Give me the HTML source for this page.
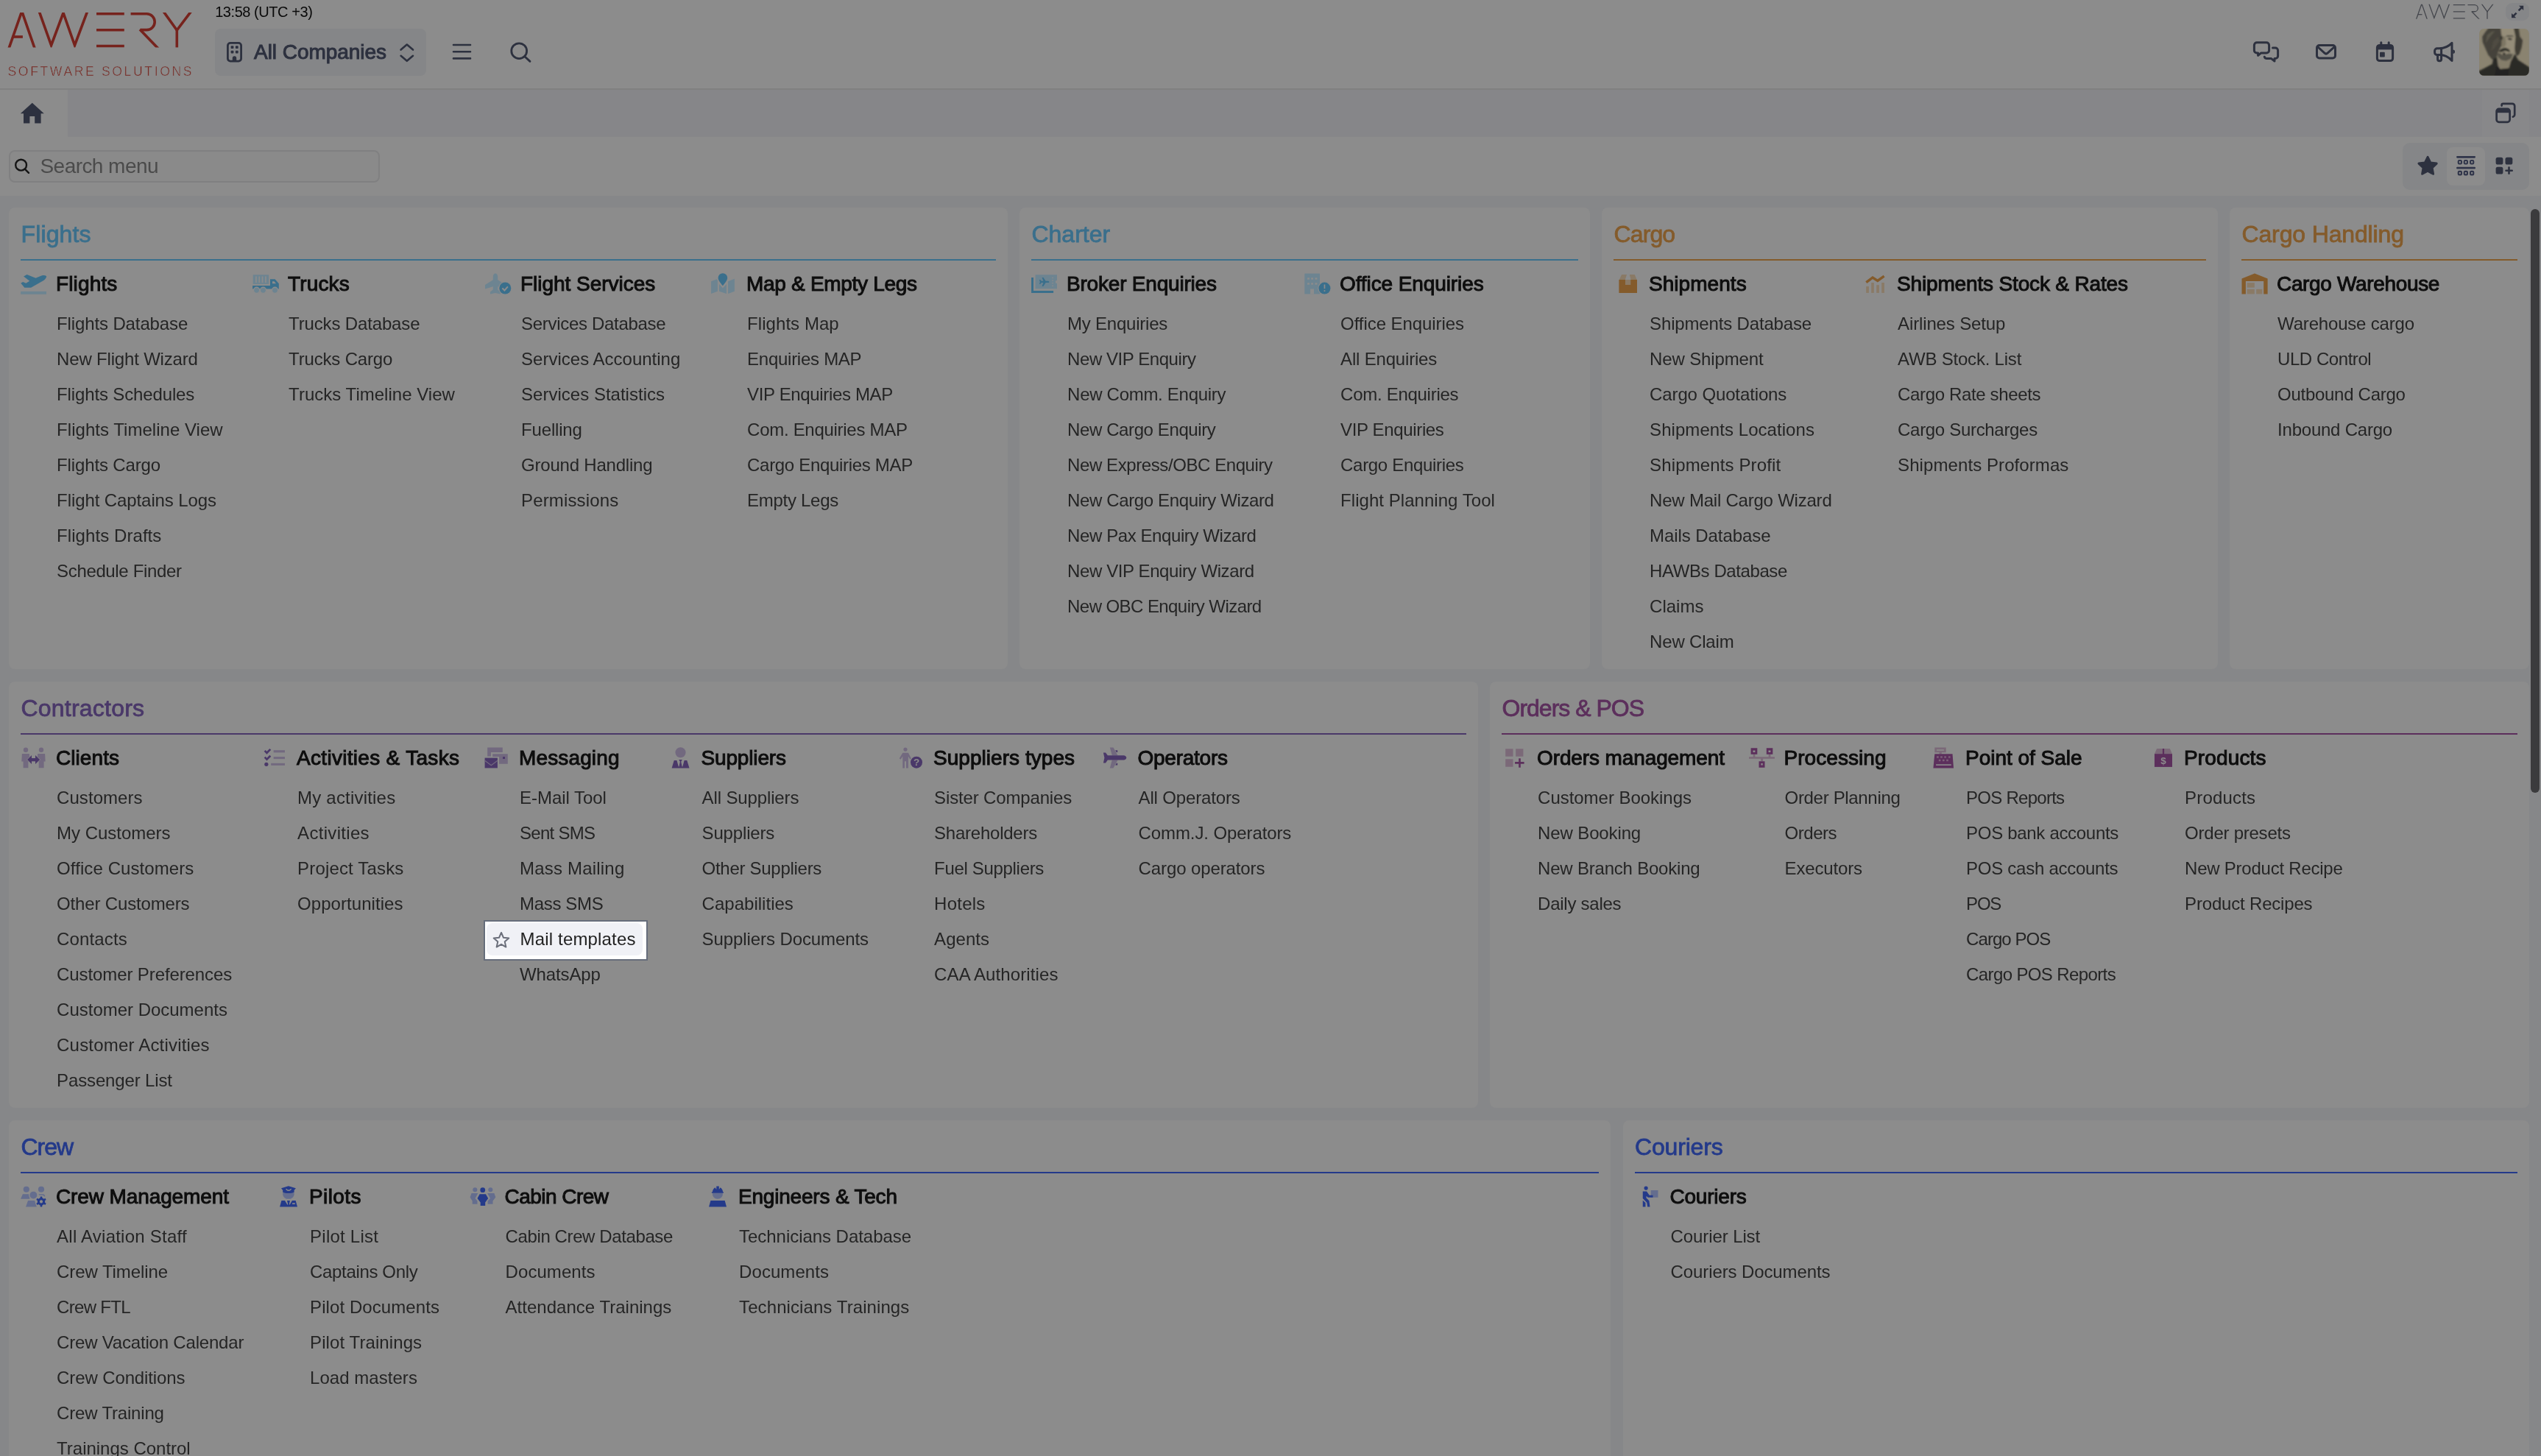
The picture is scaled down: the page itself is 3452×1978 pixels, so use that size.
<!DOCTYPE html><html><head><meta charset="utf-8"><title>Awery</title><style>
*{box-sizing:border-box;margin:0;padding:0}
html,body{width:3452px;height:1978px;overflow:hidden}
body{position:relative;background:#868789;font-family:"Liberation Sans",sans-serif;color:#252525}
#w{position:absolute;left:0;top:0;width:3452px;height:1978px;will-change:transform}
.abs{position:absolute}
#hdr{left:0;top:0;width:3452px;height:120px;background:#8c8c8c}
#hline{left:0;top:120px;width:3452px;height:2px;background:#808080}
#tabs{left:0;top:122px;width:3452px;height:64px;background:#868689}
#hometab{left:0;top:122px;width:92px;height:64px;background:#8c8c8c}
#tabright{left:3372px;top:122px;width:64px;height:64px;background:#88888a}
#srow{left:0;top:186px;width:3452px;height:80px;background:#8c8c8c}
#time{left:292.2px;top:4px;font-size:20px;line-height:24px;color:#0a0a0a;white-space:nowrap}
#comp{left:292px;top:39px;width:287px;height:64px;border-radius:8px;background:#858688}
#comptxt{left:345px;top:53px;font-size:28px;line-height:36px;color:#2d313f;-webkit-text-stroke:1px #2d313f;white-space:nowrap}
#sinput{left:12px;top:204px;width:504px;height:44px;border-radius:8px;border:2px solid #808081;background:#8a8a8a}
#stxt{left:54.5px;top:207.6px;font-size:28px;line-height:36px;color:#4b4b4b;white-space:nowrap}
#expbtn{left:3404px;top:4px;width:32px;height:24px;border-radius:9px;background:#858688}
#btngrp{left:3264px;top:194px;width:172px;height:64px;border-radius:10px;background:#858688}
#btnact{left:3324px;top:200px;width:52px;height:52px;border-radius:8px;background:#8c8c8c}
#scroll{left:3438px;top:283.8px;width:12px;height:793px;border-radius:6px;background:#3b3b3d}
.card{position:absolute;background:#8c8c8c;border-radius:8px}
.ct{position:absolute;left:16px;right:16px;top:16px;height:56px;line-height:40px;font-size:32px;border-bottom:2px solid;white-space:nowrap;padding-left:0.5px;-webkit-text-stroke:0.8px}
.sh{position:absolute;font-size:28px;line-height:36px;color:#0e0e0e;-webkit-text-stroke:1px #0e0e0e;white-space:nowrap}
.it{position:absolute;font-size:24px;line-height:43px;height:44px;white-space:nowrap;color:#252525}
.ic{position:absolute;overflow:visible}
#hl{left:657px;top:1249.5px;width:223px;height:55.5px;background:#fff;border:2px solid #666d7b}
#hli{left:661px;top:1254px;width:211.5px;height:44px;border-radius:8px;background:#f0f1f6}
</style></head><body><div id="w">
<div id="hdr" class="abs"></div><div id="hline" class="abs"></div><div id="tabs" class="abs"></div><div id="hometab" class="abs"></div><div id="tabright" class="abs"></div><div id="srow" class="abs"></div>
<div id="time" class="abs"><span id="t0" style="letter-spacing:-0.445px">13:58 (UTC +3)</span></div>
<div id="comp" class="abs"></div><div id="comptxt" class="abs"><span id="t1" style="letter-spacing:-0.044px">All Companies</span></div>
<div id="sinput" class="abs"></div><div id="stxt" class="abs"><span id="t2" style="letter-spacing:-0.555px">Search menu</span></div>
<div id="expbtn" class="abs"></div><div id="btngrp" class="abs"></div><div id="btnact" class="abs"></div>
<div class="card" style="left:12px;top:282px;width:1357px;height:627px">
<div class="ct" style="color:#3a6f8c;border-color:#3a6f8c"><span id="t3" style="letter-spacing:0.125px">Flights</span></div>
<svg class="ic" style="left:16px;top:86px" width="36" height="36" viewBox="0 0 36 36"><path d="M4.1,7.6 L8.6,5 L20.5,9.8 L28.4,6.5 C31,5.9 33.4,6 34.5,6.7 C35.3,7.4 35.2,8.2 34.9,8.7 C34,10.2 33,11.6 31.7,12.8 L14.1,22.7 H5.3 L0.3,16.7 L3.1,15 L7.3,16.8 L12.2,13.7 Z" fill="#3a6f8c"/><rect x="0.1" y="27.9" width="34.9" height="3.9" fill="#6d8491"/></svg>
<div class="sh" style="left:64px;top:85.7px"><span id="t4" style="letter-spacing:0.139px">Flights</span></div>
<div class="it" style="left:65.1px;top:135.8px"><span id="t5" style="letter-spacing:-0.129px">Flights Database</span></div>
<div class="it" style="left:65.1px;top:183.8px"><span id="t6" style="letter-spacing:-0.181px">New Flight Wizard</span></div>
<div class="it" style="left:65.1px;top:231.8px"><span id="t7" style="letter-spacing:-0.138px">Flights Schedules</span></div>
<div class="it" style="left:65.1px;top:279.8px"><span id="t8" style="letter-spacing:0.028px">Flights Timeline View</span></div>
<div class="it" style="left:65.1px;top:327.8px"><span id="t9" style="letter-spacing:-0.145px">Flights Cargo</span></div>
<div class="it" style="left:65.1px;top:375.8px"><span id="t10" style="letter-spacing:-0.093px">Flight Captains Logs</span></div>
<div class="it" style="left:65.1px;top:423.8px"><span id="t11" style="letter-spacing:0.069px">Flights Drafts</span></div>
<div class="it" style="left:65.1px;top:471.8px"><span id="t12" style="letter-spacing:-0.354px">Schedule Finder</span></div>
<svg class="ic" style="left:331px;top:86px" width="36" height="36" viewBox="0 0 36 36"><rect x="0.7" y="5.3" width="21.4" height="12.6" fill="#6d8491"/>
<g fill="#8c8c8c"><rect x="4.1" y="7.4" width="1.7" height="8.6"/><rect x="8.4" y="7.4" width="1.7" height="8.6"/><rect x="12.7" y="7.4" width="1.7" height="8.6"/><rect x="17.1" y="7.4" width="1.7" height="8.6"/></g>
<path d="M0.1,20 H24 V11.2 H30.6 L35.8,17.2 V24.6 H0.1 Z M27,14.2 V17.2 H32 L29.6,14.2 Z" fill="#3a6f8c" fill-rule="evenodd"/>
<g fill="#8c8c8c"><circle cx="5.6" cy="26.3" r="4.7"/><circle cx="14.5" cy="26.3" r="4.7"/><circle cx="30.5" cy="26.3" r="4.7"/></g>
<g fill="#6d8491"><circle cx="5.6" cy="26.3" r="3.4"/><circle cx="14.5" cy="26.3" r="3.4"/><circle cx="30.5" cy="26.3" r="3.4"/></g></svg>
<div class="sh" style="left:379px;top:85.7px"><span id="t13" style="letter-spacing:0.146px">Trucks</span></div>
<div class="it" style="left:380.1px;top:135.8px"><span id="t14" style="letter-spacing:-0.150px">Trucks Database</span></div>
<div class="it" style="left:380.1px;top:183.8px"><span id="t15" style="letter-spacing:-0.173px">Trucks Cargo</span></div>
<div class="it" style="left:380.1px;top:231.8px"><span id="t16" style="letter-spacing:0.021px">Trucks Timeline View</span></div>
<svg class="ic" style="left:647px;top:86px" width="36" height="36" viewBox="0 0 36 36"><path d="M14,3.4 C15.8,3.4 17.2,5.5 17.2,8 V12.3 L28,19 V24.4 L17.2,21.3 V25.6 L20.7,28.4 V31.5 L14,29.9 L7,31.5 V28.4 L10.8,25.6 V21.3 L0,24.4 V18.9 L10.8,12.3 V8 C10.8,5.5 12.2,3.4 14,3.4 Z" fill="#6d8491"/>
<circle cx="27.3" cy="23.5" r="9.1" fill="#8c8c8c"/><circle cx="27.3" cy="23.5" r="8" fill="#3a6f8c"/>
<path d="M23.4,23.5 L26.4,26.5 L30.9,21.4" fill="none" stroke="#8c8c8c" stroke-width="2"/></svg>
<div class="sh" style="left:695px;top:85.7px"><span id="t17" style="letter-spacing:-0.023px">Flight Services</span></div>
<div class="it" style="left:696.1px;top:135.8px"><span id="t18" style="letter-spacing:-0.313px">Services Database</span></div>
<div class="it" style="left:696.1px;top:183.8px"><span id="t19" style="letter-spacing:0.006px">Services Accounting</span></div>
<div class="it" style="left:696.1px;top:231.8px"><span id="t20" style="letter-spacing:0.011px">Services Statistics</span></div>
<div class="it" style="left:696.1px;top:279.8px"><span id="t21" style="letter-spacing:-0.187px">Fuelling</span></div>
<div class="it" style="left:696.1px;top:327.8px"><span id="t22" style="letter-spacing:-0.211px">Ground Handling</span></div>
<div class="it" style="left:696.1px;top:375.8px"><span id="t23" style="letter-spacing:0.135px">Permissions</span></div>
<svg class="ic" style="left:954px;top:86px" width="36" height="36" viewBox="0 0 36 36"><path d="M0.1,14.2 L7.8,11.2 L8.9,13 V27.7 L0.1,31 Z M11,18 L15.9,23.4 L20.9,18 V31 L11,27.7 Z M23.1,14.2 L31.9,10.8 V27.7 L23.1,31 Z" fill="#6d8491"/>
<path d="M15.9,3.2 A6.3,6.3 0 0 1 22.2,9.5 C22.2,13 18,17.5 15.9,20.3 C13.8,17.5 9.6,13 9.6,9.5 A6.3,6.3 0 0 1 15.9,3.2 Z" fill="#3a6f8c"/></svg>
<div class="sh" style="left:1002px;top:85.7px"><span id="t24" style="letter-spacing:-0.304px">Map &amp; Empty Legs</span></div>
<div class="it" style="left:1003.1px;top:135.8px"><span id="t25" style="letter-spacing:0.055px">Flights Map</span></div>
<div class="it" style="left:1003.1px;top:183.8px"><span id="t26" style="letter-spacing:-0.268px">Enquiries MAP</span></div>
<div class="it" style="left:1003.1px;top:231.8px"><span id="t27" style="letter-spacing:-0.342px">VIP Enquiries MAP</span></div>
<div class="it" style="left:1003.1px;top:279.8px"><span id="t28" style="letter-spacing:-0.290px">Com. Enquiries MAP</span></div>
<div class="it" style="left:1003.1px;top:327.8px"><span id="t29" style="letter-spacing:-0.317px">Cargo Enquiries MAP</span></div>
<div class="it" style="left:1003.1px;top:375.8px"><span id="t30" style="letter-spacing:-0.290px">Empty Legs</span></div>
</div>
<div class="card" style="left:1385px;top:282px;width:775px;height:627px">
<div class="ct" style="color:#3a6f8c;border-color:#3a6f8c"><span id="t31" style="letter-spacing:-0.017px">Charter</span></div>
<svg class="ic" style="left:16px;top:86px" width="36" height="36" viewBox="0 0 36 36"><path d="M5.6,5.3 H35 V12.7 A2.2,2.2 0 0 0 35,17.1 V24.2 H5.6 Z" fill="#6d8491"/>
<g fill="#8c8c8c"><rect x="28.2" y="8.9" width="1.8" height="1.2"/><rect x="28.2" y="12.5" width="1.8" height="1.2"/><rect x="28.2" y="16.1" width="1.8" height="1.2"/><rect x="28.2" y="19.7" width="1.8" height="1.2"/></g>
<path d="M0.1,8.9 H3 V26.9 H30.1 V29.9 H0.1 Z" fill="#3a6f8c"/>
<path d="M24.4,14.9 C24.4,15.7 23.2,16.1 22,16.1 H19.6 L16.4,20.9 H14.6 L16.4,16.1 H13.8 L12.2,17.9 H11 L11.8,14.9 L11,11.9 H12.2 L13.8,13.7 H16.4 L14.6,8.9 H16.4 L19.6,13.7 H22 C23.2,13.7 24.4,14.1 24.4,14.9 Z" fill="#3a6f8c"/></svg>
<div class="sh" style="left:64px;top:85.7px"><span id="t32" style="letter-spacing:-0.199px">Broker Enquiries</span></div>
<div class="it" style="left:65.1px;top:135.8px"><span id="t33" style="letter-spacing:-0.231px">My Enquiries</span></div>
<div class="it" style="left:65.1px;top:183.8px"><span id="t34" style="letter-spacing:-0.438px">New VIP Enquiry</span></div>
<div class="it" style="left:65.1px;top:231.8px"><span id="t35" style="letter-spacing:-0.291px">New Comm. Enquiry</span></div>
<div class="it" style="left:65.1px;top:279.8px"><span id="t36" style="letter-spacing:-0.398px">New Cargo Enquiry</span></div>
<div class="it" style="left:65.1px;top:327.8px"><span id="t37" style="letter-spacing:-0.416px">New Express/OBC Enquiry</span></div>
<div class="it" style="left:65.1px;top:375.8px"><span id="t38" style="letter-spacing:-0.372px">New Cargo Enquiry Wizard</span></div>
<div class="it" style="left:65.1px;top:423.8px"><span id="t39" style="letter-spacing:-0.411px">New Pax Enquiry Wizard</span></div>
<div class="it" style="left:65.1px;top:471.8px"><span id="t40" style="letter-spacing:-0.396px">New VIP Enquiry Wizard</span></div>
<div class="it" style="left:65.1px;top:519.8px"><span id="t41" style="letter-spacing:-0.571px">New OBC Enquiry Wizard</span></div>
<svg class="ic" style="left:387px;top:86px" width="36" height="36" viewBox="0 0 36 36"><rect x="0.3" y="3.6" width="20.7" height="27.8" fill="#6d8491"/>
<g fill="#8c8c8c"><rect x="4.1" y="9.3" width="2.8" height="2.4"/><rect x="9.2" y="9.3" width="2.8" height="2.4"/><rect x="14.5" y="9.3" width="2.9" height="2.4"/><rect x="4.1" y="16.3" width="2.8" height="2.4"/><rect x="9.2" y="16.3" width="2.8" height="2.4"/><rect x="14.5" y="16.3" width="2.9" height="2.4"/><rect x="8.1" y="24.5" width="4.9" height="7"/></g>
<circle cx="27.45" cy="23.55" r="9.1" fill="#8c8c8c"/><circle cx="27.45" cy="23.55" r="8" fill="#3a6f8c"/>
<rect x="26.6" y="18.5" width="1.7" height="5.7" fill="#8c8c8c"/><rect x="26.6" y="26.2" width="1.7" height="1.8" fill="#8c8c8c"/></svg>
<div class="sh" style="left:435px;top:85.7px"><span id="t42" style="letter-spacing:-0.096px">Office Enquiries</span></div>
<div class="it" style="left:436.1px;top:135.8px"><span id="t43" style="letter-spacing:-0.067px">Office Enquiries</span></div>
<div class="it" style="left:436.1px;top:183.8px"><span id="t44" style="letter-spacing:-0.184px">All Enquiries</span></div>
<div class="it" style="left:436.1px;top:231.8px"><span id="t45" style="letter-spacing:-0.281px">Com. Enquiries</span></div>
<div class="it" style="left:436.1px;top:279.8px"><span id="t46" style="letter-spacing:-0.350px">VIP Enquiries</span></div>
<div class="it" style="left:436.1px;top:327.8px"><span id="t47" style="letter-spacing:-0.317px">Cargo Enquiries</span></div>
<div class="it" style="left:436.1px;top:375.8px"><span id="t48" style="letter-spacing:0.039px">Flight Planning Tool</span></div>
</div>
<div class="card" style="left:2176px;top:282px;width:837px;height:627px">
<div class="ct" style="color:#845b2b;border-color:#845b2b"><span id="t49" style="letter-spacing:-0.889px">Cargo</span></div>
<svg class="ic" style="left:16px;top:86px" width="36" height="36" viewBox="0 0 36 36"><path d="M11.1,5 H18 L15.8,11.9 H7.8 Z M21.8,5 H28.7 L31.7,11.9 H23.5 Z M16,12 H23.2 V19 H16 Z" fill="#8a7a66"/>
<path d="M7.4,12 H16 V19 H23.2 V12 H32 V29.9 H7.4 Z" fill="#845b2b"/></svg>
<div class="sh" style="left:64px;top:85.7px"><span id="t50" style="letter-spacing:0.050px">Shipments</span></div>
<div class="it" style="left:65.1px;top:135.8px"><span id="t51" style="letter-spacing:-0.159px">Shipments Database</span></div>
<div class="it" style="left:65.1px;top:183.8px"><span id="t52" style="letter-spacing:-0.134px">New Shipment</span></div>
<div class="it" style="left:65.1px;top:231.8px"><span id="t53" style="letter-spacing:-0.125px">Cargo Quotations</span></div>
<div class="it" style="left:65.1px;top:279.8px"><span id="t54" style="letter-spacing:0.058px">Shipments Locations</span></div>
<div class="it" style="left:65.1px;top:327.8px"><span id="t55" style="letter-spacing:0.125px">Shipments Profit</span></div>
<div class="it" style="left:65.1px;top:375.8px"><span id="t56" style="letter-spacing:-0.221px">New Mail Cargo Wizard</span></div>
<div class="it" style="left:65.1px;top:423.8px"><span id="t57" style="letter-spacing:-0.075px">Mails Database</span></div>
<div class="it" style="left:65.1px;top:471.8px"><span id="t58" style="letter-spacing:-0.409px">HAWBs Database</span></div>
<div class="it" style="left:65.1px;top:519.8px"><span id="t59" style="letter-spacing:0.004px">Claims</span></div>
<div class="it" style="left:65.1px;top:567.8px"><span id="t60" style="letter-spacing:-0.179px">New Claim</span></div>
<svg class="ic" style="left:353px;top:86px" width="36" height="36" viewBox="0 0 36 36"><g fill="#8a7a66"><rect x="6.2" y="21.1" width="3.7" height="8.8"/><rect x="13.2" y="16" width="3.6" height="13.9"/><rect x="20.2" y="19.2" width="3.7" height="10.7"/><rect x="27.2" y="16" width="3.7" height="13.9"/></g>
<path d="M6.3,15.6 L15,9 L21.8,13.5 L30.6,7.2" fill="none" stroke="#845b2b" stroke-width="3.4" stroke-linejoin="miter"/></svg>
<div class="sh" style="left:401px;top:85.7px"><span id="t61" style="letter-spacing:-0.158px">Shipments Stock &amp; Rates</span></div>
<div class="it" style="left:402.1px;top:135.8px"><span id="t62" style="letter-spacing:-0.139px">Airlines Setup</span></div>
<div class="it" style="left:402.1px;top:183.8px"><span id="t63" style="letter-spacing:-0.210px">AWB Stock. List</span></div>
<div class="it" style="left:402.1px;top:231.8px"><span id="t64" style="letter-spacing:-0.352px">Cargo Rate sheets</span></div>
<div class="it" style="left:402.1px;top:279.8px"><span id="t65" style="letter-spacing:-0.315px">Cargo Surcharges</span></div>
<div class="it" style="left:402.1px;top:327.8px"><span id="t66" style="letter-spacing:0.084px">Shipments Proformas</span></div>
</div>
<div class="card" style="left:3029px;top:282px;width:407px;height:627px">
<div class="ct" style="color:#845b2b;border-color:#845b2b"><span id="t67" style="letter-spacing:-0.143px">Cargo Handling</span></div>
<svg class="ic" style="left:16px;top:86px" width="36" height="36" viewBox="0 0 36 36"><path d="M0.5,31.4 V10.4 L18,3.4 L35.6,10.4 V31.4 H30.2 V14.1 H5.9 V31.4 Z" fill="#845b2b"/>
<g fill="#8a7a66"><rect x="7.7" y="16.1" width="10.1" height="6.5"/><rect x="7.7" y="24.9" width="10.1" height="6.5"/><rect x="20.2" y="24.9" width="8.2" height="6.5"/></g></svg>
<div class="sh" style="left:64px;top:85.7px"><span id="t68" style="letter-spacing:-0.342px">Cargo Warehouse</span></div>
<div class="it" style="left:65.1px;top:135.8px"><span id="t69" style="letter-spacing:-0.185px">Warehouse cargo</span></div>
<div class="it" style="left:65.1px;top:183.8px"><span id="t70" style="letter-spacing:-0.451px">ULD Control</span></div>
<div class="it" style="left:65.1px;top:231.8px"><span id="t71" style="letter-spacing:-0.286px">Outbound Cargo</span></div>
<div class="it" style="left:65.1px;top:279.8px"><span id="t72" style="letter-spacing:-0.230px">Inbound Cargo</span></div>
</div>
<div class="card" style="left:12px;top:926px;width:1995.5px;height:579px">
<div class="ct" style="color:#4a3869;border-color:#4a3869"><span id="t73" style="letter-spacing:0.211px">Contractors</span></div>
<svg class="ic" style="left:16px;top:86px" width="36" height="36" viewBox="0 0 36 36"><g fill="#72697f"><circle cx="7" cy="6.8" r="3.2"/><path d="M1.9,12.1 H11.9 L12.3,22.4 H10.4 V31.2 H3.6 V22.4 H1.3 Z"/><circle cx="28" cy="6.8" r="3.2"/><path d="M23.1,12.1 H33.1 L33.6,22.4 H31.6 V31.2 H24.7 V22.4 H22.7 Z"/></g>
<path d="M9.05,20.1 L15,13.9 V18 H20 V13.9 L26.1,20.1 L20,26 V22.2 H15 V26 Z" fill="#4a3869" stroke="#8c8c8c" stroke-width="1.2" paint-order="stroke"/></svg>
<div class="sh" style="left:64px;top:85.7px"><span id="t74" style="letter-spacing:0.068px">Clients</span></div>
<div class="it" style="left:65.1px;top:135.8px"><span id="t75" style="letter-spacing:0.048px">Customers</span></div>
<div class="it" style="left:65.1px;top:183.8px"><span id="t76" style="letter-spacing:-0.019px">My Customers</span></div>
<div class="it" style="left:65.1px;top:231.8px"><span id="t77" style="letter-spacing:0.088px">Office Customers</span></div>
<div class="it" style="left:65.1px;top:279.8px"><span id="t78" style="letter-spacing:-0.164px">Other Customers</span></div>
<div class="it" style="left:65.1px;top:327.8px"><span id="t79" style="letter-spacing:0.146px">Contacts</span></div>
<div class="it" style="left:65.1px;top:375.8px"><span id="t80" style="letter-spacing:-0.104px">Customer Preferences</span></div>
<div class="it" style="left:65.1px;top:423.8px"><span id="t81" style="letter-spacing:-0.015px">Customer Documents</span></div>
<div class="it" style="left:65.1px;top:471.8px"><span id="t82" style="letter-spacing:0.191px">Customer Activities</span></div>
<div class="it" style="left:65.1px;top:519.8px"><span id="t83" style="letter-spacing:-0.139px">Passenger List</span></div>
<svg class="ic" style="left:343px;top:86px" width="36" height="36" viewBox="0 0 36 36"><g fill="#72697f"><rect x="16.7" y="7.2" width="15.3" height="3.1"/><rect x="16.7" y="16.1" width="15.3" height="3"/><rect x="13.2" y="24.8" width="18.8" height="3"/></g>
<g fill="none" stroke="#4a3869" stroke-width="2.7"><path d="M4.7,7.8 L7.5,10.8 L12.3,5.9"/><path d="M4.7,16.6 L7.5,19.6 L12.3,14.7"/></g><circle cx="6.85" cy="26.3" r="2.6" fill="#4a3869"/></svg>
<div class="sh" style="left:391px;top:85.7px"><span id="t84" style="letter-spacing:0.307px">Activities &amp; Tasks</span></div>
<div class="it" style="left:392.1px;top:135.8px"><span id="t85" style="letter-spacing:0.198px">My activities</span></div>
<div class="it" style="left:392.1px;top:183.8px"><span id="t86" style="letter-spacing:0.310px">Activities</span></div>
<div class="it" style="left:392.1px;top:231.8px"><span id="t87" style="letter-spacing:0.164px">Project Tasks</span></div>
<div class="it" style="left:392.1px;top:279.8px"><span id="t88" style="letter-spacing:0.055px">Opportunities</span></div>
<svg class="ic" style="left:645px;top:86px" width="36" height="36" viewBox="0 0 36 36"><path d="M5.2,3.4 H25.8 V10.1 H9.9 V15.6 H5.2 Z M12.2,12.3 H32.8 V25.75 H21.1 V16 H12.2 Z" fill="#72697f"/>
<rect x="26.1" y="16.1" width="2.9" height="2.9" fill="#4a3869"/>
<rect x="1.6" y="17.6" width="17.3" height="13.8" fill="#4a3869"/>
<path d="M1.6,21.3 L10.3,27.7 L18.9,21.3" fill="none" stroke="#72697f" stroke-width="1.4"/></svg>
<div class="sh" style="left:693px;top:85.7px"><span id="t89" style="letter-spacing:0.137px">Messaging</span></div>
<div class="it" style="left:694.1px;top:135.8px"><span id="t90" style="letter-spacing:-0.053px">E-Mail Tool</span></div>
<div class="it" style="left:694.1px;top:183.8px"><span id="t91" style="letter-spacing:-0.737px">Sent SMS</span></div>
<div class="it" style="left:694.1px;top:231.8px"><span id="t92" style="letter-spacing:0.193px">Mass Mailing</span></div>
<div class="it" style="left:694.1px;top:279.8px"><span id="t93" style="letter-spacing:-0.351px">Mass SMS</span></div>
<div class="it" style="left:694.1px;top:375.8px"><span id="t94" style="letter-spacing:-0.129px">WhatsApp</span></div>
<svg class="ic" style="left:892.5px;top:86px" width="36" height="36" viewBox="0 0 36 36"><circle cx="19.5" cy="10.2" r="7" fill="#72697f"/>
<path d="M10.75,21.1 H28.3 L31.5,31.4 H7.6 Z M17.2,20.1 H21.9 L21.2,21.1 H17.9 Z" fill="#4a3869"/>
<path d="M14.45,21.1 H17.9 L18.85,22.7 L17.5,29.6 H16.8 Z M24.65,21.1 H21.2 L20.25,22.7 L21.6,29.6 H22.3 Z" fill="#8c8c8c"/></svg>
<div class="sh" style="left:940.5px;top:85.7px"><span id="t95" style="letter-spacing:-0.154px">Suppliers</span></div>
<div class="it" style="left:941.6px;top:135.8px"><span id="t96" style="letter-spacing:-0.130px">All Suppliers</span></div>
<div class="it" style="left:941.6px;top:183.8px"><span id="t97" style="letter-spacing:-0.163px">Suppliers</span></div>
<div class="it" style="left:941.6px;top:231.8px"><span id="t98" style="letter-spacing:-0.284px">Other Suppliers</span></div>
<div class="it" style="left:941.6px;top:279.8px"><span id="t99" style="letter-spacing:0.017px">Capabilities</span></div>
<div class="it" style="left:941.6px;top:327.8px"><span id="t100" style="letter-spacing:-0.090px">Suppliers Documents</span></div>
<svg class="ic" style="left:1208px;top:86px" width="36" height="36" viewBox="0 0 36 36"><circle cx="10" cy="6.1" r="2.6" fill="#72697f"/><path d="M6.3,10.8 H13.9 L18,18.4 L16.4,19.6 L13.9,15.6 V31.4 H11 V22.2 H8.9 V31.4 H6.3 V15.6 L3.4,19.7 L1.8,18.3 Z" fill="#72697f"/>
<circle cx="25" cy="23.7" r="9.1" fill="#8c8c8c"/><circle cx="25" cy="23.7" r="8" fill="#4a3869"/>
<text x="25" y="28.4" text-anchor="middle" font-family="Liberation Sans, sans-serif" font-weight="bold" font-size="13.5" fill="#8c8c8c">?</text></svg>
<div class="sh" style="left:1256px;top:85.7px"><span id="t101" style="letter-spacing:0.040px">Suppliers types</span></div>
<div class="it" style="left:1257.1px;top:135.8px"><span id="t102" style="letter-spacing:-0.153px">Sister Companies</span></div>
<div class="it" style="left:1257.1px;top:183.8px"><span id="t103" style="letter-spacing:-0.241px">Shareholders</span></div>
<div class="it" style="left:1257.1px;top:231.8px"><span id="t104" style="letter-spacing:-0.321px">Fuel Suppliers</span></div>
<div class="it" style="left:1257.1px;top:279.8px"><span id="t105" style="letter-spacing:0.234px">Hotels</span></div>
<div class="it" style="left:1257.1px;top:327.8px"><span id="t106" style="letter-spacing:0.040px">Agents</span></div>
<div class="it" style="left:1257.1px;top:375.8px"><span id="t107" style="letter-spacing:0.114px">CAA Authorities</span></div>
<svg class="ic" style="left:1485.5px;top:86px" width="36" height="36" viewBox="0 0 36 36"><path d="M9.8,3.4 H14.45 L20.5,14.2 H12.8 Z M12.8,20.5 H20.5 L14.45,31.4 H9.8 Z" fill="#72697f"/>
<path d="M0.9,10.4 H4 L6.8,14.2 H28.5 C30.5,14.2 32.3,16 32.3,17.4 C32.3,18.8 30.5,20.5 28.5,20.5 H6.8 L4,24.5 H0.9 L2.4,17.4 Z M17.2,7.3 H20.2 V10.1 H18.8 Z M17.2,27.5 H20.2 V24.8 H18.8 Z" fill="#4a3869"/></svg>
<div class="sh" style="left:1533.5px;top:85.7px"><span id="t108" style="letter-spacing:-0.250px">Operators</span></div>
<div class="it" style="left:1534.6px;top:135.8px"><span id="t109" style="letter-spacing:-0.156px">All Operators</span></div>
<div class="it" style="left:1534.6px;top:183.8px"><span id="t110" style="letter-spacing:-0.100px">Comm.J. Operators</span></div>
<div class="it" style="left:1534.6px;top:231.8px"><span id="t111" style="letter-spacing:-0.113px">Cargo operators</span></div>
</div>
<div class="card" style="left:2024px;top:926px;width:1412px;height:579px">
<div class="ct" style="color:#5c2f5c;border-color:#5c2f5c"><span id="t112" style="letter-spacing:-1.000px">Orders &amp; POS</span></div>
<svg class="ic" style="left:16px;top:86px" width="36" height="36" viewBox="0 0 36 36"><g fill="#7b6978"><rect x="5.2" y="5.3" width="10.3" height="10.4"/><rect x="19.2" y="5.3" width="10.2" height="10.4"/><rect x="5.2" y="19.3" width="10.3" height="10.4"/></g>
<path d="M23.2,18.3 H25.8 V23.1 H30.6 V25.75 H25.8 V30.8 H23.2 V25.75 H18.1 V23.1 H23.2 Z" fill="#5c2f5c"/></svg>
<div class="sh" style="left:64px;top:85.7px"><span id="t113" style="letter-spacing:-0.112px">Orders management</span></div>
<div class="it" style="left:65.1px;top:135.8px"><span id="t114" style="letter-spacing:-0.033px">Customer Bookings</span></div>
<div class="it" style="left:65.1px;top:183.8px"><span id="t115" style="letter-spacing:-0.131px">New Booking</span></div>
<div class="it" style="left:65.1px;top:231.8px"><span id="t116" style="letter-spacing:-0.210px">New Branch Booking</span></div>
<div class="it" style="left:65.1px;top:279.8px"><span id="t117" style="letter-spacing:-0.254px">Daily sales</span></div>
<svg class="ic" style="left:351.5px;top:86px" width="36" height="36" viewBox="0 0 36 36"><path d="M0,16.3 H34.9 V18.7 H19.1 V22.2 H16.1 V18.7 H0 Z M5.7,12.8 H8.4 V16.3 H5.7 Z M26.7,12.8 H29.4 V16.3 H26.7 Z" fill="#7b6978"/>
<path d="M2.6,4.2 H11.3 V12.8 H2.6 Z M5.5,7.5 V10.1 H8.4 V7.5 Z M23.8,4.2 H32.3 V12.8 H23.8 Z M26.5,7.5 V10.1 H29.4 V7.5 Z M13.5,22.2 H21.5 V30.7 H13.5 Z M16.4,25.1 V27.5 H18.7 V25.1 Z" fill="#5c2f5c" fill-rule="evenodd"/></svg>
<div class="sh" style="left:399.5px;top:85.7px"><span id="t118" style="letter-spacing:0.054px">Processing</span></div>
<div class="it" style="left:400.6px;top:135.8px"><span id="t119" style="letter-spacing:-0.328px">Order Planning</span></div>
<div class="it" style="left:400.6px;top:183.8px"><span id="t120" style="letter-spacing:-0.470px">Orders</span></div>
<div class="it" style="left:400.6px;top:231.8px"><span id="t121" style="letter-spacing:-0.148px">Executors</span></div>
<svg class="ic" style="left:598px;top:86px" width="36" height="36" viewBox="0 0 36 36"><path d="M6.3,3.4 H21.7 V10.2 H15.8 V12.3 H12.5 V10.2 H6.3 Z M8.9,6.2 V7.75 H18.9 V6.2 Z" fill="#7b6978" fill-rule="evenodd"/>
<path d="M6.3,12.3 H30.5 L32,31.4 H4.4 Z" fill="#5c2f5c"/>
<g fill="#7b6078"><rect x="9" y="15.3" width="2.7" height="2.4"/><rect x="14.1" y="15.3" width="2.7" height="2.4"/><rect x="19.3" y="15.3" width="2.6" height="2.4"/><rect x="25" y="15.3" width="2.6" height="2.4"/><rect x="11.8" y="19.7" width="2.6" height="2.5"/><rect x="17" y="19.7" width="2.6" height="2.5"/><rect x="22.2" y="19.7" width="2.6" height="2.5"/></g>
<rect x="8.1" y="26.3" width="20.7" height="1.6" fill="#8c8c8c"/></svg>
<div class="sh" style="left:646px;top:85.7px"><span id="t122" style="letter-spacing:-0.023px">Point of Sale</span></div>
<div class="it" style="left:647.1px;top:135.8px"><span id="t123" style="letter-spacing:-0.738px">POS Reports</span></div>
<div class="it" style="left:647.1px;top:183.8px"><span id="t124" style="letter-spacing:-0.308px">POS bank accounts</span></div>
<div class="it" style="left:647.1px;top:231.8px"><span id="t125" style="letter-spacing:-0.268px">POS cash accounts</span></div>
<div class="it" style="left:647.1px;top:279.8px"><span id="t126" style="letter-spacing:-1.200px">POS</span></div>
<div class="it" style="left:647.1px;top:327.8px"><span id="t127" style="letter-spacing:-0.941px">Cargo POS</span></div>
<div class="it" style="left:647.1px;top:375.8px"><span id="t128" style="letter-spacing:-0.617px">Cargo POS Reports</span></div>
<svg class="ic" style="left:895px;top:86px" width="36" height="36" viewBox="0 0 36 36"><path d="M11.1,5 H28.8 L32,12.2 H7.95 Z" fill="#7b6978"/><rect x="18.9" y="5" width="2.2" height="8" fill="#5c2f5c"/>
<rect x="7.95" y="12.15" width="24.05" height="17.75" fill="#5c2f5c"/>
<text x="19.95" y="26.2" text-anchor="middle" font-family="Liberation Sans, sans-serif" font-weight="bold" font-size="13.5" fill="#8c8c8c">$</text></svg>
<div class="sh" style="left:943px;top:85.7px"><span id="t129" style="letter-spacing:0.143px">Products</span></div>
<div class="it" style="left:944.1px;top:135.8px"><span id="t130" style="letter-spacing:0.184px">Products</span></div>
<div class="it" style="left:944.1px;top:183.8px"><span id="t131" style="letter-spacing:-0.242px">Order presets</span></div>
<div class="it" style="left:944.1px;top:231.8px"><span id="t132" style="letter-spacing:-0.238px">New Product Recipe</span></div>
<div class="it" style="left:944.1px;top:279.8px"><span id="t133" style="letter-spacing:-0.185px">Product Recipes</span></div>
</div>
<div class="card" style="left:12px;top:1522px;width:2176px;height:578px">
<div class="ct" style="color:#243a8a;border-color:#243a8a"><span id="t134" style="letter-spacing:-1.057px">Crew</span></div>
<svg class="ic" style="left:16px;top:86px" width="36" height="36" viewBox="0 0 36 36"><g fill="#646d8e"><circle cx="7.8" cy="7.75" r="4.1"/><path d="M2.9,14.2 H11 L12.5,20.7 H0.1 Z"/><circle cx="28" cy="7.75" r="4.1"/><path d="M24.4,14.2 H30.6 Q33,14.4 33.2,17.6 H31.6 Q31.4,15.8 30,15.7 H25.4 Z"/></g>
<circle cx="17.4" cy="15.6" r="6" fill="#8c8c8c"/><circle cx="17.4" cy="15.6" r="4.95" fill="#646d8e"/>
<path d="M10,23 H19.1 L21.8,31.4 H7.1 Z" fill="#646d8e"/>
<circle cx="28" cy="24.4" r="8.1" fill="#8c8c8c"/>
<path d="M26.67,19.27 L26.76,17.41 L29.24,17.41 L29.33,19.27 L31.78,20.69 L33.43,19.83 L34.68,21.98 L33.11,22.98 L33.11,25.82 L34.68,26.82 L33.43,28.97 L31.78,28.11 L29.33,29.53 L29.24,31.39 L26.76,31.39 L26.67,29.53 L24.22,28.11 L22.57,28.97 L21.32,26.82 L22.89,25.82 L22.89,22.98 L21.32,21.98 L22.57,19.83 L24.22,20.69 Z M28,22.3 a2.1,2.1 0 1 0 0.001,0 Z" fill="#243a8a" fill-rule="evenodd"/></svg>
<div class="sh" style="left:64px;top:85.7px"><span id="t135" style="letter-spacing:-0.112px">Crew Management</span></div>
<div class="it" style="left:65.1px;top:135.8px"><span id="t136" style="letter-spacing:0.232px">All Aviation Staff</span></div>
<div class="it" style="left:65.1px;top:183.8px"><span id="t137" style="letter-spacing:-0.082px">Crew Timeline</span></div>
<div class="it" style="left:65.1px;top:231.8px"><span id="t138" style="letter-spacing:-0.702px">Crew FTL</span></div>
<div class="it" style="left:65.1px;top:279.8px"><span id="t139" style="letter-spacing:-0.192px">Crew Vacation Calendar</span></div>
<div class="it" style="left:65.1px;top:327.8px"><span id="t140" style="letter-spacing:-0.117px">Crew Conditions</span></div>
<div class="it" style="left:65.1px;top:375.8px"><span id="t141" style="letter-spacing:-0.184px">Crew Training</span></div>
<div class="it" style="left:65.1px;top:423.8px"><span id="t142" style="letter-spacing:-0.017px">Trainings Control</span></div>
<svg class="ic" style="left:360px;top:86px" width="36" height="36" viewBox="0 0 36 36"><path d="M12.3,12.3 H27.5 A6.9,6.9 0 0 1 19.9,20.8 A6.9,6.9 0 0 1 12.3,12.3 Z" fill="#646d8e"/>
<path d="M19.9,3.3 L29.9,6.3 L27.6,9 V11.7 C25,13.4 14.8,13.4 12.2,11.7 V9 L10,6.3 Z" fill="#243a8a"/>
<path d="M17,7.6 C18,9 19,9.3 20,9.3 C21,9.3 22.2,9 23.2,7.6" fill="none" stroke="#8c8c8c" stroke-width="1.4" stroke-linecap="round"/>
<path d="M10.4,23 H29.65 L32,31.4 H8.1 Z" fill="#243a8a"/>
<path d="M15,23 H18 L19.3,28.4 H18.3 Z M24.8,23 H21.9 L20.8,28.4 H21.7 Z" fill="#8c8c8c"/><rect x="25.1" y="26.4" width="3.7" height="1.6" fill="#8c8c8c"/></svg>
<div class="sh" style="left:408px;top:85.7px"><span id="t143" style="letter-spacing:0.406px">Pilots</span></div>
<div class="it" style="left:409.1px;top:135.8px"><span id="t144" style="letter-spacing:0.227px">Pilot List</span></div>
<div class="it" style="left:409.1px;top:183.8px"><span id="t145" style="letter-spacing:-0.346px">Captains Only</span></div>
<div class="it" style="left:409.1px;top:231.8px"><span id="t146" style="letter-spacing:0.075px">Pilot Documents</span></div>
<div class="it" style="left:409.1px;top:279.8px"><span id="t147" style="letter-spacing:0.091px">Pilot Trainings</span></div>
<div class="it" style="left:409.1px;top:327.8px"><span id="t148" style="letter-spacing:0.036px">Load masters</span></div>
<svg class="ic" style="left:625.5px;top:86px" width="36" height="36" viewBox="0 0 36 36"><g fill="#646d8e"><circle cx="7.3" cy="8.3" r="3"/><path d="M2.6,13.1 H11.4 L7.6,20 L10.5,23.6 V27.8 H3.7 V23.6 L0.6,18.5 Z"/><circle cx="28.3" cy="8.3" r="3"/><path d="M24.1,13.1 H33.4 L35.3,18.5 L31.5,23.6 V27.8 H24.6 V23.6 L28,20 Z"/></g>
<circle cx="17.75" cy="8.7" r="4.4" fill="#8c8c8c"/><circle cx="17.75" cy="8.7" r="3.4" fill="#243a8a"/>
<path d="M13.6,14.2 H21.9 L25.2,20 L21.2,25.5 V29.9 H14.7 V25.5 L10.5,20 Z" fill="#243a8a" stroke="#8c8c8c" stroke-width="1.6" paint-order="stroke"/></svg>
<div class="sh" style="left:673.5px;top:85.7px"><span id="t149" style="letter-spacing:-0.531px">Cabin Crew</span></div>
<div class="it" style="left:674.6px;top:135.8px"><span id="t150" style="letter-spacing:-0.392px">Cabin Crew Database</span></div>
<div class="it" style="left:674.6px;top:183.8px"><span id="t151" style="letter-spacing:0.053px">Documents</span></div>
<div class="it" style="left:674.6px;top:231.8px"><span id="t152" style="letter-spacing:0.013px">Attendance Trainings</span></div>
<svg class="ic" style="left:943px;top:86px" width="36" height="36" viewBox="0 0 36 36"><path d="M12.9,12.8 H26.9 A7,7 0 0 1 19.9,20.8 A7,7 0 0 1 12.9,12.8 Z" fill="#646d8e"/>
<path d="M11.9,12.8 V11.2 H13 C13,8.6 14.6,6.4 16.5,5.3 L18.25,8 V3.4 H21.8 V8 L23.5,5.3 C25.4,6.4 27,8.6 27,11.2 H27.9 V12.8 Z" fill="#243a8a"/>
<path d="M10.4,23 H29.65 L32,31.4 H8.1 Z" fill="#243a8a"/></svg>
<div class="sh" style="left:991px;top:85.7px"><span id="t153" style="letter-spacing:-0.198px">Engineers &amp; Tech</span></div>
<div class="it" style="left:992.1px;top:135.8px"><span id="t154" style="letter-spacing:-0.045px">Technicians Database</span></div>
<div class="it" style="left:992.1px;top:183.8px"><span id="t155" style="letter-spacing:0.053px">Documents</span></div>
<div class="it" style="left:992.1px;top:231.8px"><span id="t156" style="letter-spacing:0.087px">Technicians Trainings</span></div>
</div>
<div class="card" style="left:2204.5px;top:1522px;width:1231.5px;height:578px">
<div class="ct" style="color:#243a8a;border-color:#243a8a"><span id="t157" style="letter-spacing:-0.175px">Couriers</span></div>
<svg class="ic" style="left:16.0px;top:86px" width="36" height="36" viewBox="0 0 36 36"><rect x="21.7" y="9" width="9.8" height="9.75" fill="#646d8e"/>
<circle cx="15.1" cy="6.1" r="2.6" fill="#243a8a"/>
<path d="M10.75,10.6 H16 L19.7,15.85 H24.5 V18.75 H17.75 L15.55,16.7 V19.4 L19.4,23.3 L20.5,31.4 H17.2 L16.25,25.75 L10.75,20 Z M10.75,22.7 L14.45,26 V31.4 H10.75 Z" fill="#243a8a"/></svg>
<div class="sh" style="left:64.0px;top:85.7px"><span id="t158" style="letter-spacing:-0.216px">Couriers</span></div>
<div class="it" style="left:65.1px;top:135.8px"><span id="t159" style="letter-spacing:-0.101px">Courier List</span></div>
<div class="it" style="left:65.1px;top:183.8px"><span id="t160" style="letter-spacing:-0.105px">Couriers Documents</span></div>
</div>
<div id="hl" class="abs"></div><div id="hli" class="abs"></div>
<svg class="abs" style="left:0;top:0;overflow:visible" width="10" height="10"><path d="M681.00,1267.00 L683.94,1273.75 L691.27,1274.46 L685.76,1279.35 L687.35,1286.54 L681.00,1282.80 L674.65,1286.54 L676.24,1279.35 L670.73,1274.46 L678.06,1273.75 Z" fill="none" stroke="#6a6e7a" stroke-width="2" stroke-linejoin="round"/></svg>
<div class="it abs" style="left:706.6px;top:1254.3px;color:#222"><span id="t161" style="letter-spacing:0.159px">Mail templates</span></div>
<div id="scroll" class="abs"></div>
<svg class="abs" style="left:0;top:0" width="3452" height="270" viewBox="0 0 3452 270">
<defs><clipPath id="lc"><rect x="0" y="17" width="300" height="47.4"/></clipPath></defs>
<g fill="none" stroke="#76231d" stroke-width="3.6" stroke-linejoin="miter" stroke-miterlimit="10">
<g clip-path="url(#lc)">
<path d="M11.6,67 L29.7,15.3 L47.6,67"/>
<path d="M52.8,14.4 L69.6,61.5 L86,17.5 L101.5,61.5 L119.1,14.4"/>
<path d="M222,15.5 L240.3,41 L259.6,15.5"/>
<path d="M190,40 L215,66"/>
</g>
<path d="M17.5,50 H30.9"/>
<path d="M131,18.8 H168.8 M131,40.7 H168.8 M131,62.5 H168.8"/>
<path d="M177.6,18.8 H199.3 A10.9,10.9 0 0 1 199.3,40.6 H190.5"/>
<path d="M240.3,40 V64.4"/>
</g>
<text x="10.5" y="102.8" font-family="Liberation Sans, sans-serif" font-size="17.6" fill="#76231d" stroke="#8c8c8c" stroke-width="0.55" textLength="250" lengthAdjust="spacing">SOFTWARE SOLUTIONS</text>
<g transform="translate(3277.4,-1.3) scale(0.4228,0.42)"><g fill="none" stroke="#45474d" stroke-width="3.1" stroke-linejoin="miter" stroke-miterlimit="10">
<g clip-path="url(#lc)">
<path d="M11.6,67 L29.7,15.3 L47.6,67"/>
<path d="M52.8,14.4 L69.6,61.5 L86,17.5 L101.5,61.5 L119.1,14.4"/>
<path d="M222,15.5 L240.3,41 L259.6,15.5"/>
<path d="M190,40 L215,66"/>
</g>
<path d="M17.5,50 H30.9"/>
<path d="M131,18.8 H168.8 M131,40.7 H168.8 M131,62.5 H168.8"/>
<path d="M177.6,18.8 H199.3 A10.9,10.9 0 0 1 199.3,40.6 H190.5"/>
<path d="M240.3,40 V64.4"/>
</g></g>
<rect x="309.4" y="58.4" width="18.2" height="24.7" rx="3.5" fill="none" stroke="#2d313f" stroke-width="2.8"/>
<rect x="313.6" y="62.2" width="3.8" height="3.8" rx="0.8" fill="#2d313f"/>
<rect x="319.9" y="62.2" width="3.8" height="3.8" rx="0.8" fill="#2d313f"/>
<rect x="313.6" y="68.8" width="3.8" height="3.8" rx="0.8" fill="#2d313f"/>
<rect x="319.9" y="68.8" width="3.8" height="3.8" rx="0.8" fill="#2d313f"/>
<path d="M315.8,83 V79 a2.7,2.7 0 0 1 5.4,0 V83 Z" fill="#2d313f"/>
<path d="M544.6,67.6 L552.8,60.6 L561,67.6 M544.6,75.8 L552.8,82.8 L561,75.8" fill="none" stroke="#2d313f" stroke-width="2.6" stroke-linecap="round" stroke-linejoin="round"/>
<path d="M616,61 H639 M616,70.2 H639 M616,79.4 H639" stroke="#2d313f" stroke-width="2.6" stroke-linecap="round"/>
<circle cx="705.2" cy="69.2" r="10.4" fill="none" stroke="#2d313f" stroke-width="2.8"/><path d="M712.8,76.8 L720,83.4" stroke="#2d313f" stroke-width="2.8" stroke-linecap="round"/>
<path d="M43.8,139.8 L27.8,154.2 H32 V167.4 H40.4 V158 H47.2 V167.4 H55.6 V154.2 H59.8 Z" fill="#2d313f"/>
<circle cx="28.6" cy="224.2" r="7.4" fill="none" stroke="#151515" stroke-width="2.4"/><path d="M34,229.8 L39,234.8" stroke="#151515" stroke-width="2.4" stroke-linecap="round"/>
<g fill="none" stroke="#2d313f" stroke-width="3" stroke-linejoin="round" stroke-linecap="round">
<path d="M3066,57.8 H3079 a3.6,3.6 0 0 1 3.6,3.6 V68.5 a3.6,3.6 0 0 1 -3.6,3.6 H3071.5 L3067.6,75.4 V72.1 H3066 a3.6,3.6 0 0 1 -3.6,-3.6 V61.4 a3.6,3.6 0 0 1 3.6,-3.6 Z"/>
<path d="M3087.5,65 H3091 a3.6,3.6 0 0 1 3.6,3.6 V76 a3.6,3.6 0 0 1 -3.6,3.6 H3090 V83 L3085.6,79.6 H3079.5 a3.6,3.6 0 0 1 -3.2,-2.4"/>
<rect x="3147.5" y="61.6" width="25" height="17.4" rx="3.4"/><path d="M3148.5,63.5 L3158,72.2 a3,3 0 0 0 4,0 L3171.5,63.5"/>
<rect x="3229.4" y="61.4" width="21.2" height="21.2" rx="3.4"/><path d="M3234.8,57.8 V61 M3245.2,57.8 V61"/>
</g>
<path d="M3229.4,61.4 h21.2 v6 h-21.2 z" fill="#2d313f"/><rect x="3233" y="70.8" width="6.8" height="6.6" rx="1" fill="#2d313f"/>
<g fill="none" stroke="#2d313f" stroke-width="3" stroke-linejoin="round" stroke-linecap="round">
<path d="M3331,58.4 V82.4 C3326,77 3319,74.6 3314,74.6 H3311 a3.4,3.4 0 0 1 -3.4,-3.4 V69.2 a3.4,3.4 0 0 1 3.4,-3.4 H3314 C3319,65.8 3326,63.5 3331,58.4 Z"/>
<path d="M3311.6,75 V80.6 a2.2,2.2 0 0 0 2.2,2.2 h0.6 a2.2,2.2 0 0 0 2.2,-2.2 V66"/>
</g>
<path d="M3332.4,67.6 a2.6,2.6 0 0 1 0,5.2 z" fill="#2d313f"/>
<path d="M3421.6,14.4 L3426.4,9.6" stroke="#2d313f" stroke-width="2.6"/><path d="M3422,7.8 H3428.2 V14 Z" fill="#2d313f"/>
<path d="M3418.6,17.6 L3413.8,22.4" stroke="#2d313f" stroke-width="2.6"/><path d="M3412,18 V24.2 H3418.2 Z" fill="#2d313f"/>
<g fill="none" stroke="#2d313f" stroke-width="2.7" stroke-linejoin="round" stroke-linecap="round"><rect x="3391.6" y="147.9" width="18" height="17.9" rx="3.2"/><path d="M3398.6,143.6 V142.6 a1.8,1.8 0 0 1 1.8,-1.8 H3413 a3.2,3.2 0 0 1 3.2,3.2 V155.6 a3.2,3.2 0 0 1 -2.4,3.1"/></g>
<path d="M3391.6,149 h18 v4.2 h-18 z" fill="#2d313f"/>
<path d="M3298.10,213.30 L3301.80,220.90 L3310.18,222.08 L3304.09,227.95 L3305.56,236.27 L3298.10,232.30 L3290.64,236.27 L3292.11,227.95 L3286.02,222.08 L3294.40,220.90 Z" fill="#2d313f" stroke="#2d313f" stroke-width="3" stroke-linejoin="round"/>
<g stroke="#30354a" fill="none"><path d="M3338.4,213.35 H3361.7 M3338.4,228.15 H3361.7" stroke-width="2.7" stroke-linecap="round"/>
<rect x="3339.75" y="218.05" width="4.2" height="4.5" rx="1.2" stroke-width="2.1"/>
<rect x="3347.75" y="218.05" width="4.2" height="4.5" rx="1.2" stroke-width="2.1"/>
<rect x="3356.05" y="218.05" width="4.2" height="4.5" rx="1.2" stroke-width="2.1"/>
<rect x="3339.75" y="232.85" width="4.2" height="4.5" rx="1.2" stroke-width="2.1"/>
<rect x="3347.75" y="232.85" width="4.2" height="4.5" rx="1.2" stroke-width="2.1"/>
<rect x="3356.05" y="232.85" width="4.2" height="4.5" rx="1.2" stroke-width="2.1"/>
</g>
<rect x="3390.6" y="213.7" width="9.8" height="9.8" rx="2.6" fill="#2d313f"/>
<rect x="3403.5" y="213.7" width="9.8" height="9.8" rx="2.6" fill="#2d313f"/>
<rect x="3390.6" y="226.8" width="9.8" height="9.8" rx="2.6" fill="#2d313f"/>
<path d="M3408.5,227.6 V235.8 M3404.5,231.7 H3412.7" stroke="#2d313f" stroke-width="2.6" stroke-linecap="round"/>
<defs><clipPath id="av"><rect x="3368" y="39" width="67.8" height="63.8" rx="6.5"/></clipPath><filter id="avb" x="-5%" y="-5%" width="110%" height="110%"><feGaussianBlur stdDeviation="0.9"/></filter></defs>
<g clip-path="url(#av)"><rect x="3366" y="37" width="72" height="68" fill="#8a8370"/><g filter="url(#avb)">
<polygon points="3397.1,38.0 3414.9,38.0 3416.9,49.8 3416.4,64.7 3413.5,74.6 3408.5,80.5 3401.6,82.5 3394.7,79.5 3392.7,74.6 3393.7,69.6 3397.6,62.7 3398.1,49.8" fill="#958d79"/>
<polygon points="3392.2,77.5 3393.2,89.4 3398.6,94.3 3408.0,93.4 3411.0,84.5 3414.0,74.6 3408.5,81.0 3401.6,83.0 3394.7,80.0" fill="#847d6a"/>
<polygon points="3397.6,49.8 3403.6,49.8 3404.6,60.7 3400.6,64.7 3397.6,62.7" fill="#7d7664"/>
<polygon points="3380.8,38.0 3397.1,38.0 3398.6,49.8 3398.1,62.7 3394.2,69.6 3391.7,78.0 3385.8,81.0 3380.3,74.6 3376.4,65.7 3372.7,57.3 3372.2,49.8 3376.4,43.4" fill="#45423a"/>
<polygon points="3378.8,47.4 3384.8,42.9 3389.7,41.9 3381.8,51.3 3376.9,58.7" fill="#5a564b"/>
<polygon points="3387.2,55.8 3393.7,49.8 3395.7,55.8 3388.7,65.7 3383.8,69.6" fill="#4f4b42"/>
<polygon points="3414.9,38.0 3421.6,38.0 3423.3,49.8 3427.1,54.8 3425.6,64.7 3422.6,73.6 3418.4,76.5 3416.2,65.7 3417.4,49.8" fill="#403d36"/>
<polygon points="3403.6,49.8 3406.5,48.1 3414.0,48.4 3414.9,49.8 3408.5,49.8" fill="#3a3832"/>
<polygon points="3406.5,52.3 3409.5,51.6 3413.0,52.8 3411.5,54.5 3408.0,54.0" fill="#2e2c28"/>
<polygon points="3397.1,49.1 3399.9,49.3 3399.6,53.8 3397.4,54.3" fill="#35332d"/>
<polygon points="3392.4,73.1 3395.7,71.4 3399.6,74.6 3403.6,73.8 3408.5,72.6 3413.7,73.3 3411.5,79.5 3404.6,82.7 3398.6,81.7 3393.7,78.0" fill="#57534a"/>
<polygon points="3393.9,69.9 3398.1,65.9 3403.6,64.7 3408.8,67.1 3410.2,70.9 3403.6,69.1 3397.6,70.9" fill="#33312c"/>
<polygon points="3399.6,71.8 3403.6,71.6 3403.1,74.6 3400.6,74.6" fill="#2f2d28"/>
<polygon points="3367.0,96.8 3385.8,86.9 3387.2,79.5 3392.2,78.0 3393.7,89.4 3396.6,93.9 3408.5,92.6 3411.0,83.5 3416.4,73.6 3420.9,81.5 3437.2,91.9 3437.2,104.2 3367.0,104.2" fill="#2c2b27"/>
<polygon points="3391.7,89.4 3396.6,94.1 3408.5,92.9 3407.5,104.2 3388.7,104.2" fill="#232220"/>
</g></g>
</svg>
</div></body></html>
